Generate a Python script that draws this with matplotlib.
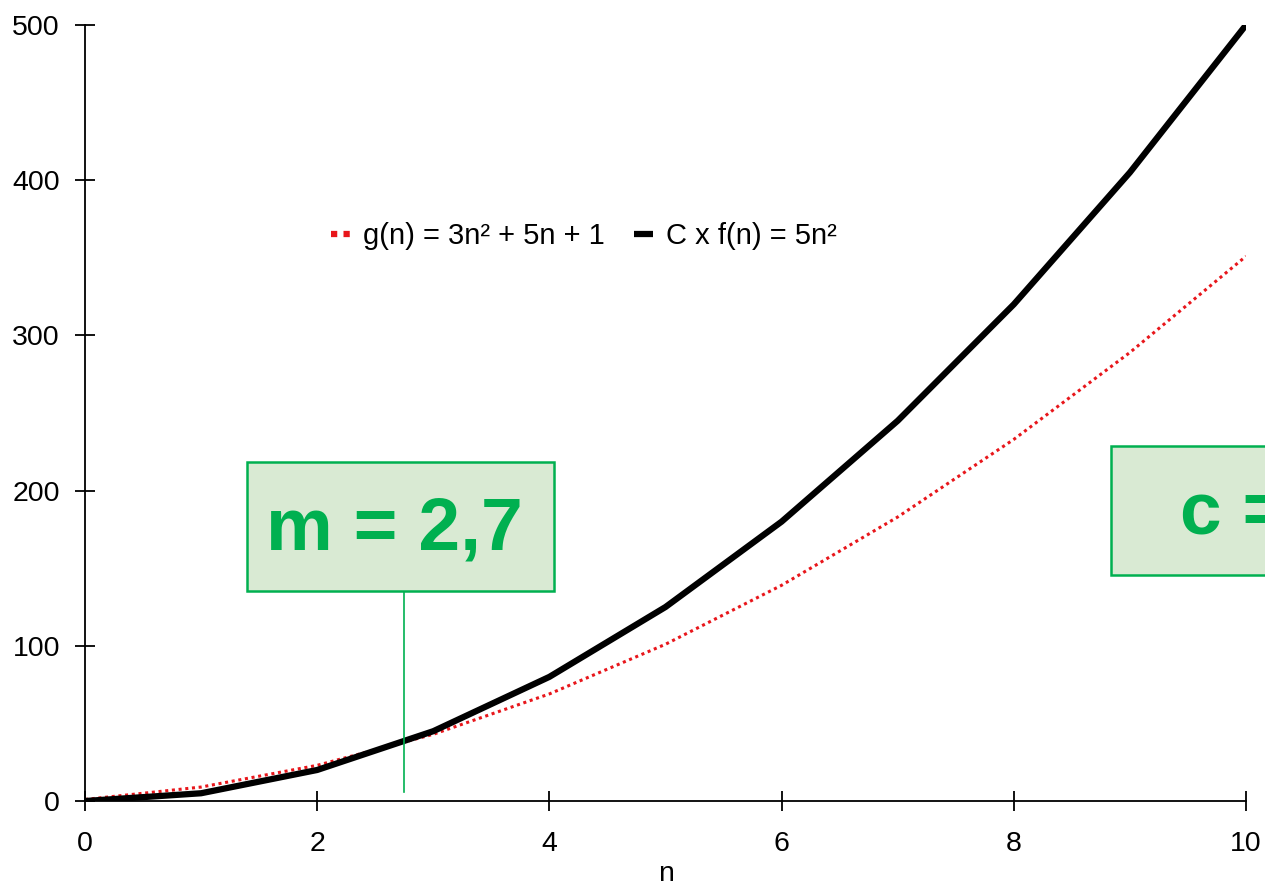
import matplotlib.pyplot as plt
import matplotlib.patches as patches
from matplotlib.lines import Line2D

plt.rcParams['font.family'] = ['Liberation Sans', 'DejaVu Sans']

n = [0, 1, 2, 3, 4, 5, 6, 7, 8, 9, 10]
g_vals = [1, 9, 23, 43, 69, 101, 139, 183, 233, 289, 351]
cf_vals = [0, 5, 20, 45, 80, 125, 180, 245, 320, 405, 500]

x_ticks = [0, 2, 4, 6, 8, 10]
y_ticks = [0, 100, 200, 300, 400, 500]

m_val = 2.75
m_label = 'm = 2,7'
c_label = 'c = 5'
g_label = 'g(n) = 3n² + 5n + 1'
cf_label = 'C x f(n) = 5n²'

vermelho = '#E8161B'
verde = '#00B050'
verde_claro = '#D9EAD3'

fig = plt.figure(figsize=(12.65, 8.85), dpi=100)
ax = fig.add_axes([0.0672, 0.0949, 0.9178, 0.8769])

ax.plot(n, g_vals, color=vermelho, linestyle=(0, (1, 1.2)), linewidth=2.2)
ax.plot(n, cf_vals, color='black', linewidth=4.5, solid_joinstyle='round')

ax.set_xlim(0, 10)
ax.set_ylim(0, 500)
ax.set_xticks(x_ticks)
ax.set_yticks(y_ticks)
ax.spines['top'].set_visible(False)
ax.spines['right'].set_visible(False)
for s in ['left', 'bottom']:
    ax.spines[s].set_linewidth(1.3)
ax.tick_params(direction='inout', length=14, width=1.3, labelsize=20.5)
ax.tick_params(axis='x', pad=14.5)
ax.tick_params(axis='y', pad=11)
ax.set_xlabel('n', fontsize=20.5, labelpad=3)

# caixa do m, com linha de chamada
ax.plot([m_val, m_val], [5.8, 135.3], color=verde, linewidth=1.2)
ax.add_patch(patches.Rectangle((1.397, 135.3), 2.644, 83.1, facecolor=verde_claro,
                               edgecolor=verde, linewidth=1.8, zorder=3))
ax.text(1.397 + 2.644 / 2 - 0.055, 135.3 + 83.1 / 2 - 2, m_label, color=verde, fontsize=54,
        fontweight='bold', ha='center', va='center', zorder=4)

# caixa do c (sai pela direita)
ax.add_patch(patches.Rectangle((8.837, 145.6), 2.644, 83.1, facecolor=verde_claro,
                               edgecolor=verde, linewidth=1.8, zorder=3, clip_on=False))
ax.text(8.837 + 2.644 / 2, 145.6 + 83.1 / 2 - 2, c_label, color=verde, fontsize=54,
        fontweight='bold', ha='center', va='center', zorder=4, clip_on=False)

# legenda com marcas mais grossas
handles = [Line2D([], [], color=vermelho, linewidth=4.5, linestyle=(0, (1, 1)),
                  dash_capstyle='butt'),
           Line2D([], [], color='black', linewidth=4.5, solid_capstyle='butt')]
fig.legend(handles, [g_label, cf_label], loc='center', bbox_to_anchor=(0.4617, 0.7333),
           ncol=2, frameon=False, fontsize=21, handlelength=0.65, handletextpad=0.45,
           columnspacing=1.0)

plt.savefig('out.png', dpi=100)
